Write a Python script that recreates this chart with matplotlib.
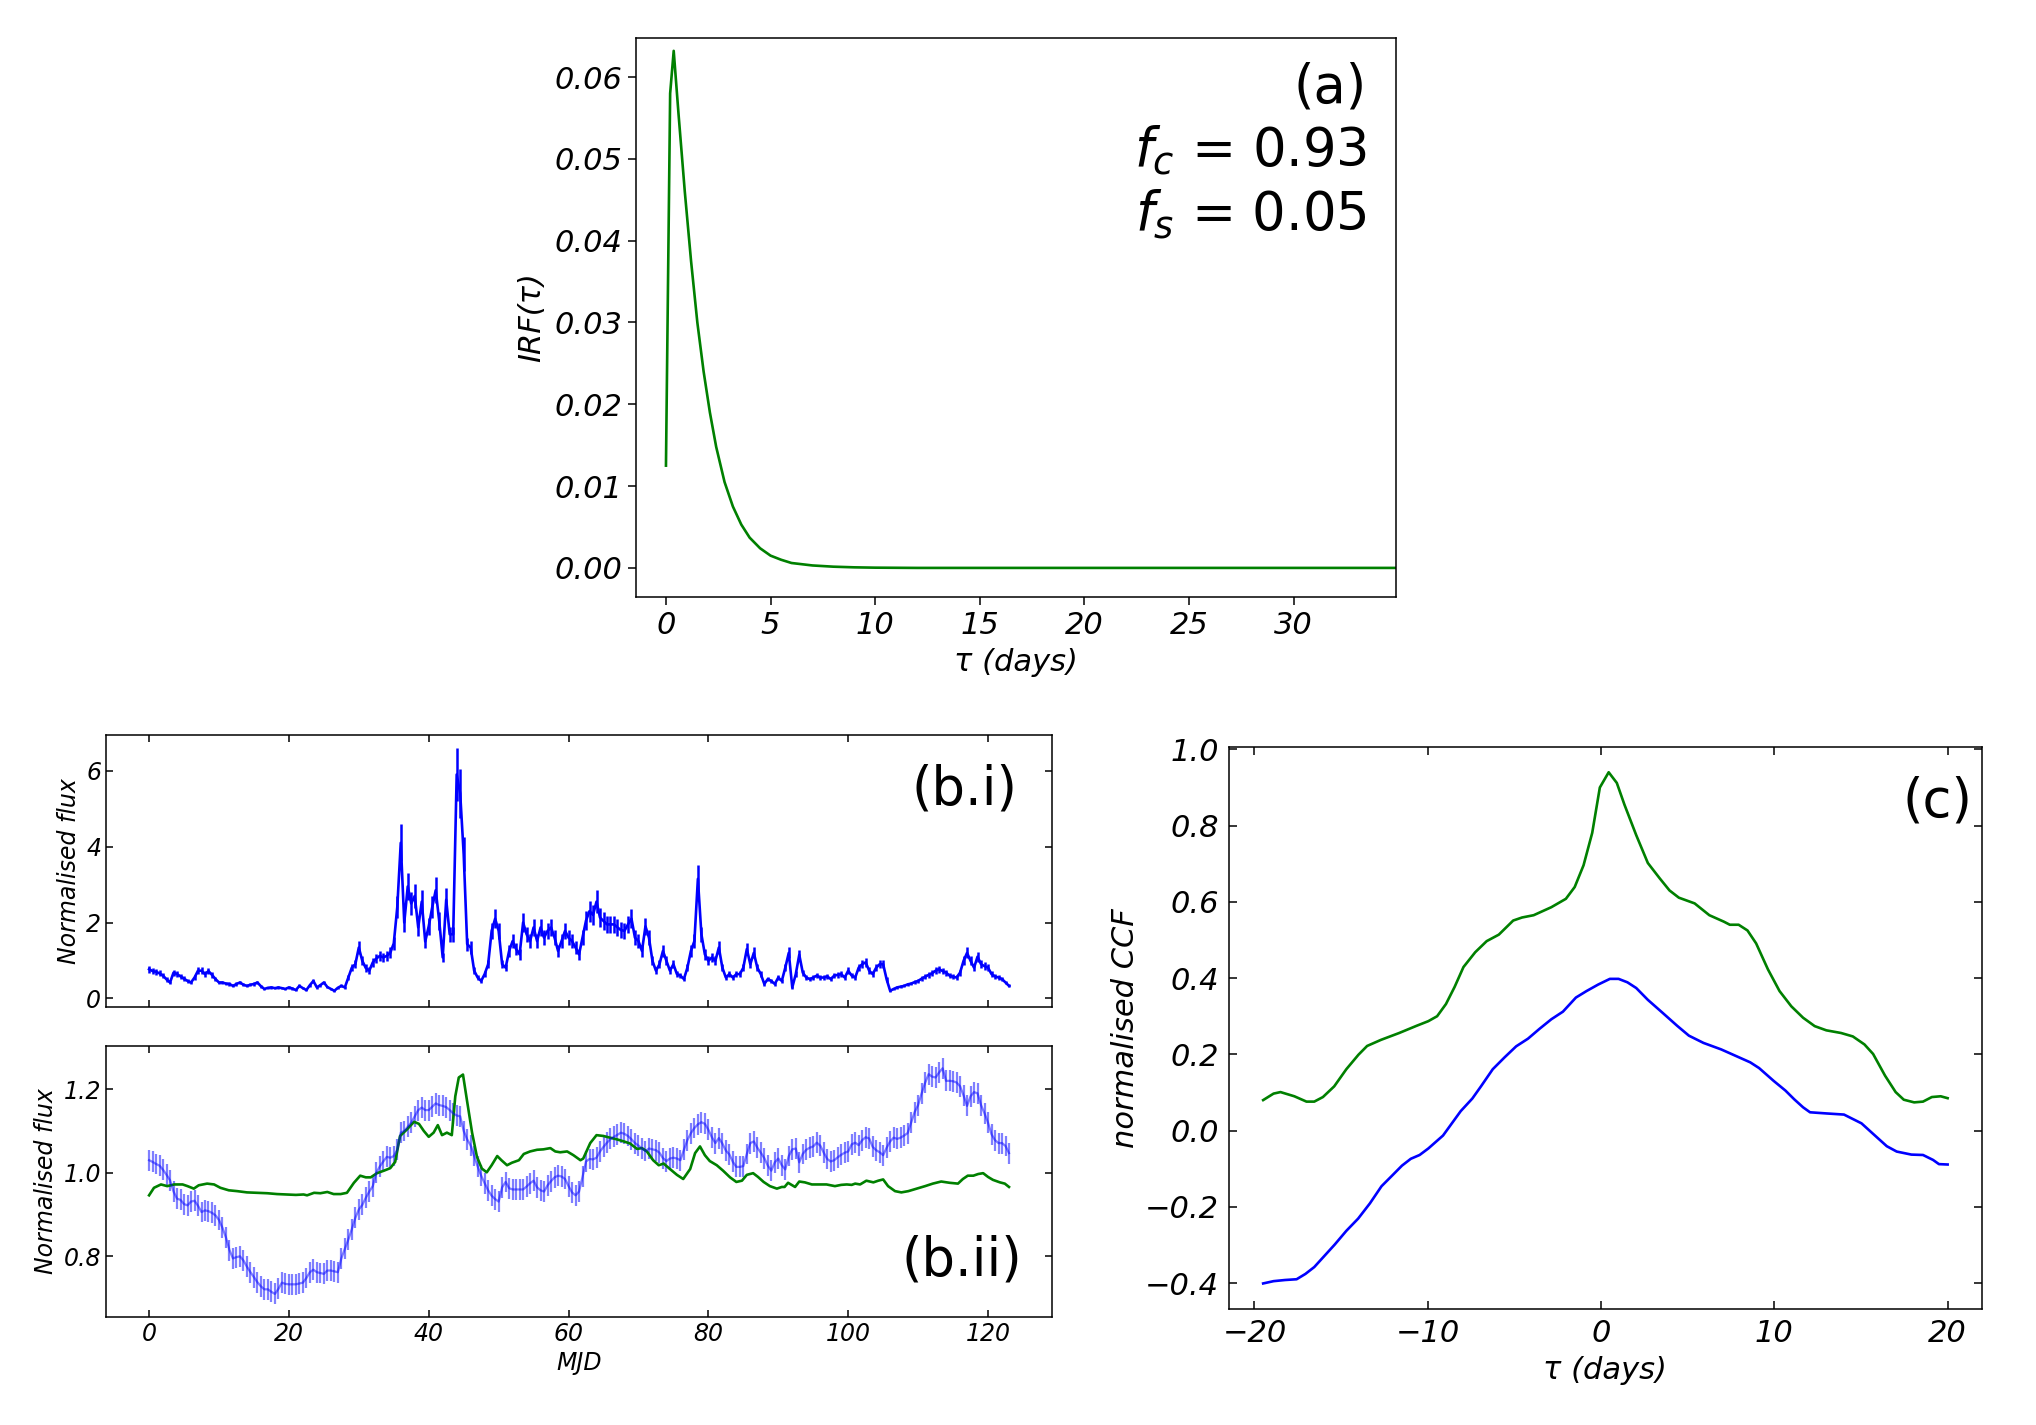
import matplotlib
matplotlib.use("Agg")
import matplotlib.pyplot as plt
import numpy as np

plt.rcParams['font.family'] = ['DejaVu Sans']
plt.rcParams['font.style'] = 'italic'
plt.rcParams['mathtext.fontset'] = 'dejavusans'

# (a) impulse response function
irf_tau = [0, 0.2, 0.37, 0.6, 0.9, 1.2, 1.5, 1.8, 2.1, 2.4, 2.8, 3.2, 3.6, 4.0,
           4.5, 5.0, 5.5, 6.0, 7.0, 8.0, 9.0, 10.0, 12.0, 15.0, 20.0, 25.0, 30.0, 35.0]
irf_val = [0.0125, 0.058, 0.0632, 0.0555, 0.046, 0.0375, 0.030, 0.024, 0.019, 0.0148,
           0.0105, 0.0075, 0.0053, 0.0037, 0.0024, 0.0015, 0.0010, 0.0006, 0.0003,
           0.00015, 0.00007, 0.00003, 0, 0, 0, 0, 0, 0]
fc_txt = '0.93'
fs_txt = '0.05'

# (b) light curves, sampled every half day from MJD 0 to 123
mjd = np.arange(0, 123.5, 0.5)
flux_bi = [
    0.77, 0.72, 0.70, 0.66, 0.60, 0.50, 0.42, 0.68, 0.64, 0.58, 0.52, 0.46, 0.42, 0.55, 0.73, 0.73, 0.64, 0.72, 0.62, 0.51,
    0.42, 0.42, 0.39, 0.38, 0.33, 0.38, 0.42, 0.36, 0.33, 0.36, 0.38, 0.42, 0.32, 0.25, 0.28, 0.29, 0.27, 0.29, 0.27, 0.25,
    0.29, 0.26, 0.22, 0.33, 0.27, 0.22, 0.35, 0.46, 0.29, 0.35, 0.42, 0.30, 0.25, 0.20, 0.28, 0.33, 0.29, 0.55, 0.81, 0.90,
    1.34, 0.99, 0.80, 0.73, 0.95, 1.05, 1.12, 1.08, 1.12, 1.20, 1.45, 2.40, 4.10, 2.00, 2.95, 2.50, 2.70, 1.87, 2.55, 1.50,
    1.90, 2.40, 2.85, 2.04, 1.08, 2.60, 1.69, 1.69, 5.90, 5.40, 3.80, 1.43, 1.34, 0.73, 0.55, 0.46, 0.64, 0.90, 1.78, 2.10,
    1.78, 0.90, 0.81, 1.25, 1.51, 1.30, 1.16, 2.00, 1.69, 1.51, 1.87, 1.51, 1.87, 1.60, 1.78, 1.87, 1.60, 1.25, 1.51, 1.78,
    1.60, 1.51, 1.34, 1.16, 1.60, 2.05, 2.30, 2.20, 2.55, 2.13, 2.04, 1.95, 1.95, 1.95, 1.87, 1.80, 1.78, 1.95, 2.10, 1.60,
    1.51, 1.25, 1.90, 1.60, 0.99, 0.73, 0.90, 1.25, 0.99, 0.73, 0.90, 0.64, 0.60, 0.51, 0.81, 1.25, 1.51, 3.15, 1.69, 1.16,
    0.99, 1.08, 0.99, 1.34, 0.81, 0.55, 0.64, 0.55, 0.64, 0.64, 0.81, 1.30, 0.90, 1.20, 0.81, 0.64, 0.38, 0.51, 0.46, 0.38,
    0.55, 0.46, 0.81, 1.20, 0.29, 0.64, 1.15, 0.68, 0.55, 0.51, 0.55, 0.60, 0.55, 0.55, 0.58, 0.51, 0.60, 0.62, 0.64, 0.55,
    0.73, 0.60, 0.55, 0.81, 0.90, 0.95, 0.73, 0.64, 0.81, 0.90, 0.90, 0.50, 0.20, 0.25, 0.29, 0.31, 0.33, 0.37, 0.39, 0.43,
    0.46, 0.52, 0.57, 0.62, 0.66, 0.73, 0.77, 0.72, 0.68, 0.60, 0.57, 0.55, 0.68, 0.99, 1.20, 0.99, 0.81, 1.10, 0.90, 0.85,
    0.81, 0.64, 0.58, 0.55, 0.51, 0.42, 0.33]
bi_rel_err = 0.12  # bar half-length relative to flux

flux_bii = [
    1.030, 1.026, 1.021, 1.017, 1.007, 0.995, 0.982, 0.955, 0.938, 0.935, 0.925, 0.922, 0.931, 0.933, 0.921, 0.906, 0.910, 0.908, 0.904, 0.898,
    0.887, 0.868, 0.845, 0.815, 0.795, 0.798, 0.800, 0.790, 0.775, 0.762, 0.750, 0.738, 0.728, 0.721, 0.721, 0.715, 0.710, 0.722, 0.737, 0.734,
    0.733, 0.733, 0.733, 0.735, 0.737, 0.748, 0.762, 0.768, 0.762, 0.760, 0.758, 0.766, 0.766, 0.764, 0.762, 0.795, 0.818, 0.840, 0.865, 0.892,
    0.912, 0.923, 0.940, 0.955, 0.968, 1.000, 1.015, 1.027, 1.038, 1.036, 1.040, 1.055, 1.096, 1.100, 1.110, 1.120, 1.135, 1.150, 1.156, 1.150,
    1.150, 1.158, 1.166, 1.162, 1.160, 1.157, 1.150, 1.142, 1.137, 1.135, 1.100, 1.080, 1.065, 1.040, 1.015, 0.993, 0.975, 0.958, 0.945, 0.937,
    0.931, 0.965, 0.978, 0.963, 0.960, 0.960, 0.960, 0.960, 0.967, 0.975, 0.981, 0.965, 0.958, 0.955, 0.970, 0.980, 0.989, 0.993, 0.991, 0.985,
    0.968, 0.953, 0.946, 0.955, 0.990, 1.027, 1.033, 1.032, 1.036, 1.051, 1.062, 1.072, 1.081, 1.086, 1.091, 1.096, 1.093, 1.088, 1.080, 1.071,
    1.065, 1.058, 1.052, 1.058, 1.056, 1.054, 1.048, 1.035, 1.028, 1.034, 1.036, 1.034, 1.030, 1.055, 1.078, 1.095, 1.107, 1.116, 1.121, 1.117,
    1.103, 1.085, 1.071, 1.083, 1.070, 1.053, 1.044, 1.026, 1.014, 1.014, 1.016, 1.045, 1.071, 1.075, 1.060, 1.048, 1.035, 1.017, 1.005, 1.025,
    1.034, 1.018, 1.008, 1.040, 1.056, 1.058, 1.025, 1.045, 1.055, 1.060, 1.063, 1.072, 1.065, 1.048, 1.033, 1.027, 1.030, 1.037, 1.043, 1.048,
    1.051, 1.068, 1.072, 1.066, 1.078, 1.085, 1.082, 1.062, 1.054, 1.049, 1.042, 1.060, 1.075, 1.084, 1.081, 1.084, 1.089, 1.095, 1.120, 1.145,
    1.162, 1.190, 1.215, 1.236, 1.230, 1.228, 1.240, 1.250, 1.220, 1.220, 1.219, 1.216, 1.207, 1.185, 1.160, 1.183, 1.193, 1.190, 1.162, 1.142,
    1.120, 1.092, 1.078, 1.071, 1.071, 1.064, 1.047]
bii_err = 0.025

model_mjd = [
    0, 0.7, 1.7, 2.6, 3.6, 4.8, 5.5, 6.4, 7.1, 8.3, 9.3, 10.2, 11.4, 12.6, 14.0, 15.5, 16.9, 18.3, 19.8, 21.0,
    22.1, 22.6, 23.6, 24.5, 25.5, 26.4, 27.4, 28.3, 29.3, 30.2, 31.0, 31.7, 32.6, 33.6, 34.5, 35.2, 35.9, 36.9, 37.9, 38.6,
    39.3, 40.0, 40.7, 41.3, 41.9, 42.6, 43.3, 43.8, 44.3, 44.9, 45.5, 46.2, 46.9, 47.6, 48.3, 49.0, 49.8, 50.4, 51.2, 51.9,
    52.9, 53.6, 54.5, 55.5, 56.4, 57.4, 58.1, 58.8, 59.8, 60.7, 61.7, 62.1, 63.1, 64.0, 65.0, 65.9, 66.9, 67.9, 68.8, 69.8,
    70.5, 71.2, 72.1, 72.9, 73.6, 74.5, 75.5, 76.4, 77.4, 78.1, 78.8, 79.5, 80.2, 81.2, 82.1, 83.1, 84.0, 84.8, 85.5, 86.4,
    87.1, 87.9, 88.8, 89.8, 90.5, 90.9, 91.4, 91.9, 92.4, 93.0, 93.8, 94.8, 95.9, 96.9, 98.1, 99.0, 99.8, 100.5, 101.0, 101.7,
    102.6, 103.6, 104.3, 105.0, 105.7, 106.7, 107.6, 108.6, 109.8, 111.0, 112.1, 113.3, 114.5, 115.7, 116.4, 117.1, 117.9,
    118.6, 119.3, 120.0, 120.7, 121.7, 122.4, 123.0]
model_flux = [
    0.946, 0.964, 0.972, 0.968, 0.972, 0.972, 0.968, 0.962, 0.970, 0.974, 0.972, 0.964, 0.958, 0.956, 0.953, 0.952, 0.951, 0.949, 0.948, 0.947,
    0.948, 0.946, 0.952, 0.951, 0.954, 0.949, 0.949, 0.952, 0.976, 0.993, 0.989, 0.989, 0.999, 1.005, 1.011, 1.026, 1.088, 1.104, 1.122, 1.117,
    1.100, 1.086, 1.096, 1.114, 1.090, 1.096, 1.090, 1.183, 1.228, 1.235, 1.170, 1.096, 1.038, 1.010, 1.001, 1.018, 1.040, 1.030, 1.018, 1.024,
    1.030, 1.045, 1.051, 1.055, 1.056, 1.059, 1.051, 1.049, 1.051, 1.042, 1.030, 1.034, 1.071, 1.090, 1.088, 1.084, 1.080, 1.075, 1.070, 1.057,
    1.059, 1.051, 1.030, 1.018, 1.022, 1.009, 0.995, 0.985, 1.009, 1.047, 1.063, 1.042, 1.028, 1.018, 1.005, 0.989, 0.978, 0.981, 0.995, 0.999,
    0.990, 0.978, 0.968, 0.962, 0.966, 0.966, 0.976, 0.971, 0.966, 0.979, 0.977, 0.972, 0.972, 0.972, 0.968, 0.971, 0.972, 0.971, 0.974, 0.972,
    0.981, 0.977, 0.981, 0.984, 0.968, 0.956, 0.953, 0.956, 0.962, 0.968, 0.974, 0.979, 0.976, 0.974, 0.985, 0.993, 0.993,
    0.997, 0.999, 0.990, 0.983, 0.977, 0.974, 0.966]

# (c) cross-correlation functions
ccf_g_tau = [-19.5, -18.9, -18.5, -17.7, -17.0, -16.55, -16.05, -15.4, -14.7, -14.0, -13.5, -12.7, -11.65, -10.64,
             -9.97, -9.46, -8.95, -8.45, -7.94, -7.26, -6.6, -5.9, -5.07, -4.56, -3.89, -2.87, -2.03, -1.52, -1.01,
             -0.51, -0.07, 0.44, 0.91, 1.35, 2.03, 2.70, 3.38, 3.95, 4.49, 5.4, 6.25, 7.09, 7.43, 7.94, 8.45, 8.95,
             9.63, 10.3, 10.98, 11.66, 12.33, 13.0, 13.85, 14.53, 15.2, 15.7, 16.39, 17.0, 17.47, 18.07, 18.58,
             19.09, 19.6, 20.0]
ccf_g = [0.080, 0.097, 0.101, 0.090, 0.076, 0.076, 0.088, 0.116, 0.161, 0.199, 0.222, 0.238, 0.256, 0.275,
         0.287, 0.300, 0.332, 0.377, 0.429, 0.468, 0.497, 0.514, 0.551, 0.559, 0.565, 0.586, 0.608, 0.639, 0.696,
         0.781, 0.900, 0.940, 0.912, 0.855, 0.775, 0.702, 0.662, 0.630, 0.611, 0.596, 0.565, 0.548, 0.540, 0.540,
         0.525, 0.491, 0.423, 0.366, 0.326, 0.296, 0.274, 0.263, 0.256, 0.247, 0.226, 0.201, 0.144, 0.101, 0.081,
         0.074, 0.076, 0.088, 0.090, 0.085]
ccf_b_tau = [-19.5, -18.9, -18.24, -17.57, -17.06, -16.55, -16.05, -15.37, -14.7, -14.02, -13.34, -12.67, -11.99,
             -11.49, -10.98, -10.47, -9.97, -9.12, -8.61, -8.1, -7.43, -6.93, -6.25, -5.57, -4.9, -4.22, -3.55,
             -2.87, -2.2, -1.45, -0.84, -0.17, 0.51, 1.01, 1.52, 2.03, 2.7, 3.55, 4.39, 5.07, 5.91, 6.93, 7.77, 8.61,
             9.12, 9.97, 10.64, 11.15, 11.66, 12.06, 13.0, 14.02, 15.03, 15.71, 16.49, 17.06, 17.91, 18.58, 19.16,
             19.5, 20.0]
ccf_b = [-0.401, -0.395, -0.392, -0.390, -0.376, -0.358, -0.333, -0.299, -0.263, -0.231, -0.191, -0.146, -0.115,
         -0.092, -0.074, -0.064, -0.047, -0.013, 0.019, 0.051, 0.084, 0.116, 0.161, 0.192, 0.221, 0.241, 0.267,
         0.292, 0.312, 0.349, 0.366, 0.383, 0.398, 0.398, 0.389, 0.374, 0.343, 0.309, 0.275, 0.249, 0.230, 0.213,
         0.196, 0.179, 0.164, 0.130, 0.105, 0.082, 0.061, 0.048, 0.045, 0.042, 0.019, -0.009, -0.041, -0.055,
         -0.063, -0.064, -0.077, -0.088, -0.089]

fig = plt.figure(figsize=(20.36, 14.25), dpi=100)

tick_big = 22
tick_small = 17
tag_size = 38

# ---- panel (a)
ax_a = fig.add_axes([0.3124, 0.5808, 0.3733, 0.3927])
ax_a.plot(irf_tau, irf_val, color='g', lw=1.9)
ax_a.set_xlim(-1.43, 34.9)
ax_a.set_ylim(-0.0036, 0.0648)
ax_a.set_xticks([0, 5, 10, 15, 20, 25, 30])
ax_a.set_yticks([0.0, 0.01, 0.02, 0.03, 0.04, 0.05, 0.06])
ax_a.yaxis.set_major_formatter(matplotlib.ticker.FormatStrFormatter('%.2f'))
ax_a.tick_params(labelsize=tick_big, length=6, width=1.1)
ax_a.set_xlabel('τ (days)', fontsize=tick_big, labelpad=6)
ax_a.set_ylabel('IRF(τ)', fontsize=tick_big, labelpad=6)
ax_a.text(0.962, 0.958, '(a)\n$f_c$ = ' + fc_txt + '\n$f_s$ = ' + fs_txt,
          transform=ax_a.transAxes, ha='right', va='top', fontsize=tag_size,
          style='normal', linespacing=1.25, multialignment='right')

# ---- panel (b.i)
ax_bi = fig.add_axes([0.0521, 0.2935, 0.4646, 0.1907])
err_bi = np.array(flux_bi) * bi_rel_err
ax_bi.errorbar(mjd, flux_bi, yerr=err_bi, color='b', lw=1.9, elinewidth=1.8, capsize=0)
ax_bi.set_ylim(-0.22, 6.94)
ax_bi.set_yticks([0, 2, 4, 6])
ax_bi.set_xticks([0, 20, 40, 60, 80, 100, 120])
ax_bi.tick_params(direction='in', top=True, right=True, labelbottom=False,
                  labelsize=tick_small, length=5, width=1.1)
ax_bi.set_ylabel('Normalised flux', fontsize=tick_small)
ax_bi.text(0.963, 0.895, '(b.i)', transform=ax_bi.transAxes, ha='right', va='top',
           fontsize=tag_size, style='normal')

# ---- panel (b.ii)
ax_bii = fig.add_axes([0.0521, 0.0760, 0.4646, 0.1903])
ax_bii.errorbar(mjd, flux_bii, yerr=bii_err, color='b', alpha=0.5, lw=1.6,
                elinewidth=1.6, capsize=0)
ax_bii.plot(model_mjd, model_flux, color='g', lw=1.9)
ax_bii.set_xlim(ax_bi.get_xlim())
ax_bii.set_yticks([0.8, 1.0, 1.2])
ax_bii.set_xticks([0, 20, 40, 60, 80, 100, 120])
ax_bii.tick_params(direction='in', top=True, right=True, labelsize=tick_small,
                   length=5, width=1.1)
ax_bii.set_ylabel('Normalised flux', fontsize=tick_small)
ax_bii.set_xlabel('MJD', fontsize=tick_small)
ax_bii.text(0.969, 0.11, '(b.ii)', transform=ax_bii.transAxes, ha='right', va='bottom',
            fontsize=tag_size, style='normal')

# ---- panel (c)
ax_c = fig.add_axes([0.6036, 0.0814, 0.3698, 0.3946])
ax_c.plot(ccf_g_tau, ccf_g, color='g', lw=1.9)
ax_c.plot(ccf_b_tau, ccf_b, color='b', lw=1.9)
ax_c.set_xticks([-20, -10, 0, 10, 20])
ax_c.set_yticks([-0.4, -0.2, 0.0, 0.2, 0.4, 0.6, 0.8, 1.0])
ax_c.tick_params(direction='in', top=True, right=True, labelsize=tick_big,
                 length=6, width=1.1, pad=7)
ax_c.set_xlabel('τ (days)', fontsize=tick_big, labelpad=6)
ax_c.set_ylabel('normalised CCF', fontsize=tick_big)
ax_c.text(0.988, 0.948, '(c)', transform=ax_c.transAxes, ha='right', va='top',
          fontsize=tag_size, style='normal')

for ax in (ax_a, ax_bi, ax_bii, ax_c):
    for s in ax.spines.values():
        s.set_linewidth(1.1)

fig.savefig('out.png', dpi=100)
